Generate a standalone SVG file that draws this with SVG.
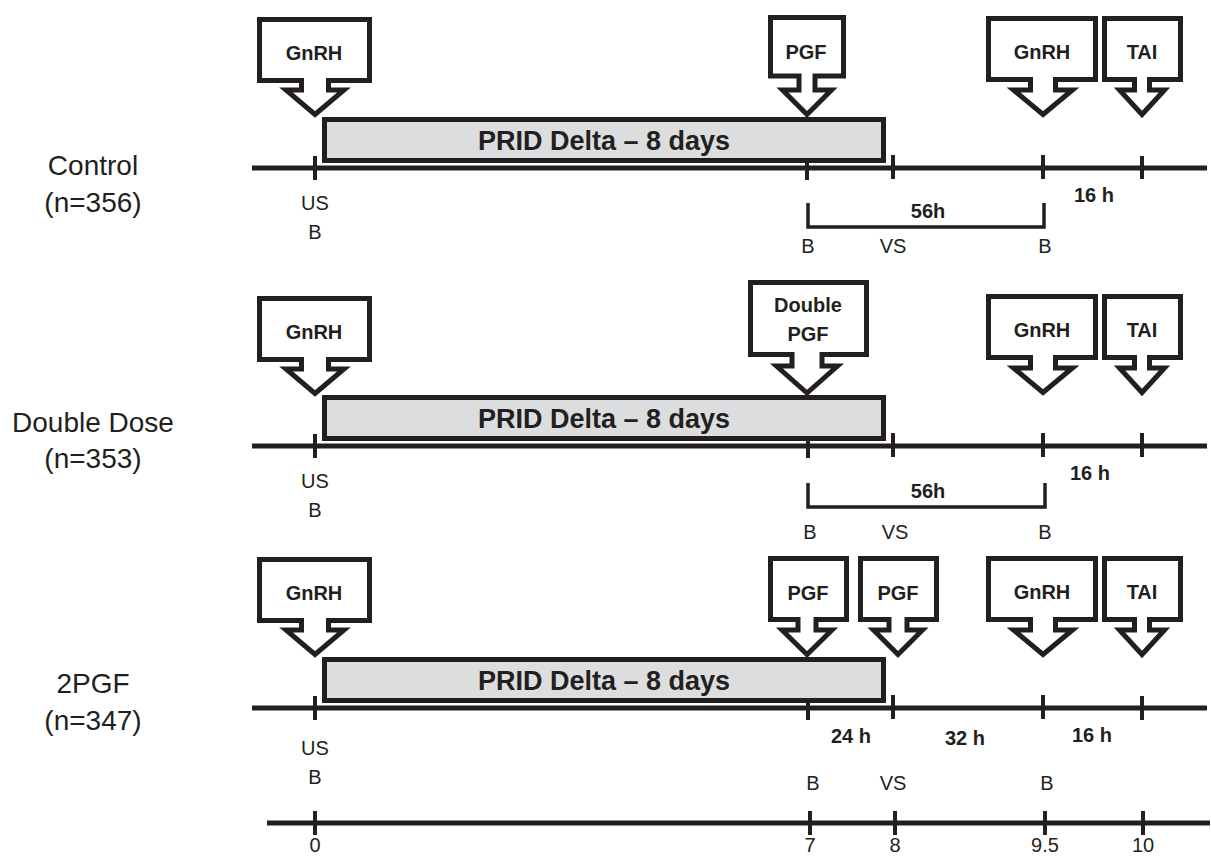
<svg xmlns="http://www.w3.org/2000/svg" width="1211" height="857" viewBox="0 0 1211 857">
<style>
text{font-family:"Liberation Sans",Arial,sans-serif;fill:#231f20;text-anchor:middle}
.grp{font-size:28px}
.sm{font-size:20px}
.b{font-size:20px;font-weight:bold}
.bar{font-size:27px;font-weight:bold}
.co{fill:#fff;stroke:#231f20;stroke-width:5;stroke-linejoin:miter;stroke-miterlimit:10}
.prid{fill:#dcdddf;stroke:#231f20;stroke-width:5}
.ln{stroke:#231f20;stroke-width:5;fill:none}
.tk{stroke:#231f20;stroke-width:4;fill:none}
.br{stroke:#231f20;stroke-width:3.5;fill:none}
</style>
<rect width="1211" height="857" fill="#fff"/>

<g id="labels">
<text class="grp" x="93" y="175">Control</text>
<text class="grp" x="93" y="212">(n=356)</text>
<text class="grp" x="93" y="432">Double Dose</text>
<text class="grp" x="93" y="468">(n=353)</text>
<text class="grp" x="93" y="693">2PGF</text>
<text class="grp" x="93" y="730">(n=347)</text>
</g>

<g id="connectors">
<line class="ln" x1="252" y1="168" x2="1207" y2="168"/>
<path class="tk" d="M315 156V180M807 156V180M893 155V179M1043 155V179M1142 156V179"/>
<path class="br" d="M808 203V227H1044V203"/>
<line class="ln" x1="252" y1="446" x2="1207" y2="446"/>
<path class="tk" d="M315 434V458M808 434V458M893 433V457M1043 433V457M1142 433V457"/>
<path class="br" d="M808 483V507H1045V483"/>
<line class="ln" x1="252" y1="708" x2="1207" y2="708"/>
<path class="tk" d="M315 696V720M808 696V720M893 695V719M1043 695V719M1142 696V720"/>
<line class="ln" x1="267" y1="823" x2="1210" y2="823"/>
<path class="tk" d="M315 811V835M810 811V835M895 811V835M1045 811V835M1143 811V835"/>
</g>

<g id="row1">
<g id="r1-prid"><rect class="prid" x="324.5" y="119.5" width="559" height="41"/><text class="bar" x="604" y="150">PRID Delta – 8 days</text></g>
<g id="r1-gnrh"><path class="co" d="M259.5 19.5H369.5V80.5H328.5V90H344L315 114.5L286 90H301.5V80.5H259.5Z"/><text class="b" x="314" y="60">GnRH</text></g>
<g id="r1-pgf"><path class="co" d="M770.5 17.5H843.5V76H815V90H831.5L807 114.5L782.5 90H799V76H770.5Z"/><text class="b" x="806" y="59">PGF</text></g>
<g id="r1-gnrh2"><path class="co" d="M988.5 18.5H1095.5V79.5H1055.5V90H1072.5L1043 114.5L1013.5 90H1030.5V79.5H988.5Z"/><text class="b" x="1042" y="59">GnRH</text></g>
<g id="r1-tai"><path class="co" d="M1104.5 18.5H1180.5V79.5H1149.5V90H1164.5L1142 114.5L1119.5 90H1134.5V79.5H1104.5Z"/><text class="b" x="1142" y="59">TAI</text></g>
<text class="sm" x="315" y="210">US</text>
<text class="sm" x="315" y="239">B</text>
<text class="b" x="928" y="218">56h</text>
<text class="b" x="1094" y="202">16 h</text>
<text class="sm" x="808" y="253">B</text>
<text class="sm" x="893" y="253">VS</text>
<text class="sm" x="1045" y="253">B</text>
</g>

<g id="row2">
<g id="r2-prid"><rect class="prid" x="324.5" y="397.5" width="559" height="41"/><text class="bar" x="604" y="428">PRID Delta – 8 days</text></g>
<g id="r2-gnrh"><path class="co" d="M259.5 298.5H369.5V359.5H328.5V369H344L315 393.5L286 369H301.5V359.5H259.5Z"/><text class="b" x="314" y="339">GnRH</text></g>
<g id="r2-dpgf"><path class="co" d="M750.5 282.5H866.5V354.5H822V366H837.5L807 393L776.5 366H792V354.5H750.5Z"/><text class="b" x="808" y="312">Double</text><text class="b" x="808" y="341">PGF</text></g>
<g id="r2-gnrh2"><path class="co" d="M988.5 296.5H1095.5V357.5H1055.5V368H1072.5L1043 392.5L1013.5 368H1030.5V357.5H988.5Z"/><text class="b" x="1042" y="337">GnRH</text></g>
<g id="r2-tai"><path class="co" d="M1104.5 296.5H1180.5V357.5H1149.5V368H1164.5L1142 392.5L1119.5 368H1134.5V357.5H1104.5Z"/><text class="b" x="1142" y="337">TAI</text></g>
<text class="sm" x="315" y="488">US</text>
<text class="sm" x="315" y="517">B</text>
<text class="b" x="928" y="498">56h</text>
<text class="b" x="1090" y="480">16 h</text>
<text class="sm" x="810" y="539">B</text>
<text class="sm" x="895" y="539">VS</text>
<text class="sm" x="1045" y="539">B</text>
</g>

<g id="row3">
<g id="r3-prid"><rect class="prid" x="324.5" y="659.5" width="559" height="41"/><text class="bar" x="604" y="690">PRID Delta – 8 days</text></g>
<g id="r3-gnrh"><path class="co" d="M259.5 559.5H369.5V620.5H328.5V630H344L315 654.5L286 630H301.5V620.5H259.5Z"/><text class="b" x="314" y="600">GnRH</text></g>
<g id="r3-pgf1"><path class="co" d="M770.5 558.5H846.5V619.5H816V630H832L807 654.5L782 630H798V619.5H770.5Z"/><text class="b" x="808" y="600">PGF</text></g>
<g id="r3-pgf2"><path class="co" d="M860.5 558.5H936.5V619.5H907V630H922.5L898 654.5L873.5 630H889V619.5H860.5Z"/><text class="b" x="898" y="600">PGF</text></g>
<g id="r3-gnrh2"><path class="co" d="M988.5 558.5H1095.5V619.5H1055.5V630H1072.5L1043 654.5L1013.5 630H1030.5V619.5H988.5Z"/><text class="b" x="1042" y="599">GnRH</text></g>
<g id="r3-tai"><path class="co" d="M1104.5 558.5H1180.5V619.5H1149.5V630H1164.5L1142 654.5L1119.5 630H1134.5V619.5H1104.5Z"/><text class="b" x="1142" y="599">TAI</text></g>
<text class="sm" x="315" y="755">US</text>
<text class="sm" x="315" y="784">B</text>
<text class="b" x="851" y="743">24 h</text>
<text class="b" x="965" y="745">32 h</text>
<text class="b" x="1092" y="742">16 h</text>
<text class="sm" x="813" y="790">B</text>
<text class="sm" x="893" y="790">VS</text>
<text class="sm" x="1047" y="790">B</text>
</g>

<g id="axis-labels">
<text class="sm" x="315" y="852">0</text>
<text class="sm" x="810" y="852">7</text>
<text class="sm" x="895" y="852">8</text>
<text class="sm" x="1045" y="852">9.5</text>
<text class="sm" x="1143" y="852">10</text>
</g>
</svg>
